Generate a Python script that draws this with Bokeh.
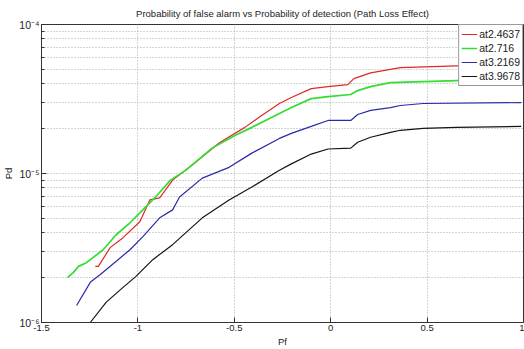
from bokeh.plotting import figure
from bokeh.models import FixedTicker, CustomJSTickFormatter, Legend, LegendItem
from bokeh.embed import file_html
from bokeh.resources import INLINE

title = "Probability of false alarm vs Probability of detection (Path Loss Effect)"

# ---- data ----
red_x = [-1.221, -1.205, -1.144, -1.077, -0.990, -0.938, -0.887, -0.831, -0.820, -0.718,
         -0.579, -0.445, -0.358, -0.266, -0.204, -0.101, -0.014, 0.089, 0.120, 0.207,
         0.361, 0.654, 0.988]
red_y = [2.38e-6, 2.38e-6, 3.18e-6, 3.71e-6, 4.74e-6, 6.65e-6, 6.86e-6, 8.63e-6, 9.03e-6, 1.14e-5,
         1.60e-5, 2.04e-5, 2.45e-5, 2.95e-5, 3.24e-5, 3.71e-5, 3.83e-5, 3.95e-5, 4.33e-5, 4.74e-5,
         5.13e-5, 5.28e-5, 5.28e-5]

green_x = [-1.365, -1.334, -1.308, -1.267, -1.180, -1.113, -1.041, -0.974, -0.908, -0.831,
           -0.753, -0.615, -0.497, -0.409, -0.266, -0.204, -0.101, -0.014, 0.104, 0.140,
           0.207, 0.310, 0.479, 0.654, 0.988]
green_y = [2.00e-6, 2.17e-6, 2.38e-6, 2.52e-6, 3.08e-6, 3.88e-6, 4.67e-6, 5.70e-6, 6.96e-6, 9.03e-6,
           1.05e-5, 1.48e-5, 1.80e-5, 2.04e-5, 2.53e-5, 2.77e-5, 3.18e-5, 3.28e-5, 3.39e-5, 3.60e-5,
           3.83e-5, 4.07e-5, 4.13e-5, 4.20e-5, 4.26e-5]

blue_x = [-1.318, -1.247, -1.195, -1.103, -1.041, -0.974, -0.887, -0.820, -0.784, -0.666,
          -0.527, -0.409, -0.266, -0.204, -0.101, -0.014, 0.104, 0.140, 0.207, 0.310,
          0.361, 0.479, 0.988]
blue_y = [1.30e-6, 1.86e-6, 2.10e-6, 2.64e-6, 3.08e-6, 3.77e-6, 5.04e-6, 5.70e-6, 6.96e-6, 9.31e-6,
          1.10e-5, 1.37e-5, 1.72e-5, 1.86e-5, 2.07e-5, 2.27e-5, 2.27e-5, 2.49e-5, 2.65e-5, 2.77e-5,
          2.86e-5, 2.95e-5, 2.99e-5]

black_x = [-1.247, -1.164, -1.077, -1.010, -0.923, -0.820, -0.666, -0.527, -0.409, -0.266,
           -0.204, -0.101, -0.014, 0.104, 0.140, 0.207, 0.310, 0.361, 0.479, 0.654, 0.988]
black_y = [1.00e-6, 1.37e-6, 1.72e-6, 2.04e-6, 2.64e-6, 3.33e-6, 5.04e-6, 6.65e-6, 8.11e-6, 1.05e-5,
           1.16e-5, 1.35e-5, 1.46e-5, 1.48e-5, 1.62e-5, 1.75e-5, 1.89e-5, 1.95e-5, 2.01e-5, 2.04e-5,
           2.07e-5]

series_names = ["at2.4637", "at2.716", "at3.2169", "at3.9678"]
series_colors = ["#e02828", "#33dd33", "#2a2aa8", "#151515"]

x_ticks = [-1.5, -1.0, -0.5, 0.0, 0.5, 1.0]
y_ticks = [1e-6, 1e-5, 1e-4]
y_minor = [m * 10.0 ** e for e in (-6, -5) for m in range(2, 10)]

FONT = "Liberation Sans"

p = figure(width=524, height=349, output_backend="svg", toolbar_location=None,
           x_range=(-1.5, 1.0), y_range=(1e-6, 1e-4), y_axis_type="log",
           min_border_left=40, min_border_right=1, min_border_top=24, min_border_bottom=26)

p.title.text = title
p.title.align = "center"
p.title.vertical_align = "top"
p.title.text_font = FONT
p.title.text_font_size = "9.5px"
p.title.text_font_style = "normal"
p.title.text_color = "#222222"
p.title.standoff = 7

p.background_fill_color = "white"
p.border_fill_color = "white"
p.outline_line_color = "#333333"
p.outline_line_width = 1

xs = [red_x, green_x, blue_x, black_x]
ys = [red_y, green_y, blue_y, black_y]
widths = [1.2, 1.7, 1.2, 1.2]
renderers = []
for x, y, c, w in zip(xs, ys, series_colors, widths):
    renderers.append(p.line(x, y, line_color=c, line_width=w))

xfmt = CustomJSTickFormatter(code="return tick.toString();")
yfmt = CustomJSTickFormatter(code="""
const sup = {'-':'\u207b','0':'\u2070','1':'\u00b9','2':'\u00b2','3':'\u00b3','4':'\u2074',
             '5':'\u2075','6':'\u2076','7':'\u2077','8':'\u2078','9':'\u2079'};
const e = Math.round(Math.log10(tick));
return '10' + String(e).split('').map(c => sup[c]).join('');
""")

xa = p.xaxis[0]
xa.ticker = FixedTicker(ticks=x_ticks)
xa.formatter = xfmt
xa.axis_label = "Pf"
ya = p.yaxis[0]
ya.ticker = FixedTicker(ticks=y_ticks, minor_ticks=y_minor)
ya.formatter = yfmt
ya.axis_label = "Pd"

for ax in (xa, ya):
    ax.axis_label_text_font = FONT
    ax.axis_label_text_font_size = "9.5px"
    ax.axis_label_text_font_style = "normal"
    ax.axis_label_text_color = "#222222"
    ax.axis_label_standoff = 2
    ax.major_label_text_font = FONT
    ax.major_label_text_font_size = "9.5px"
    ax.major_label_text_color = "#222222"
    ax.major_label_standoff = 2
    ax.major_tick_in = 5
    ax.major_tick_out = 0
    ax.minor_tick_in = 0
    ax.minor_tick_out = 0
    ax.axis_line_color = "#333333"
    ax.major_tick_line_color = "#333333"
ya.minor_tick_in = 3
ya.minor_tick_line_color = "#333333"
ya.major_label_text_font_size = "10.5px"

for g in (p.xgrid[0], p.ygrid[0]):
    g.grid_line_color = "#aaaaaa"
    g.grid_line_dash = "1 2"
    g.grid_line_width = 1
p.ygrid[0].ticker = ya.ticker
p.ygrid[0].minor_grid_line_color = "#aaaaaa"
p.ygrid[0].minor_grid_line_dash = "1 2"
p.xgrid[0].ticker = xa.ticker

legend = Legend(items=[LegendItem(label=n, renderers=[r]) for n, r in zip(series_names, renderers)],
                location="top_right", label_text_font=FONT, label_text_font_size="10.5px",
                label_text_color="#222222", glyph_width=16, glyph_height=14, label_height=14,
                label_standoff=2, spacing=0, padding=2, margin=0,
                border_line_color="#333333", border_line_width=1, background_fill_alpha=1)
p.add_layout(legend)

open("out.html", "w").write(file_html(p, INLINE))
